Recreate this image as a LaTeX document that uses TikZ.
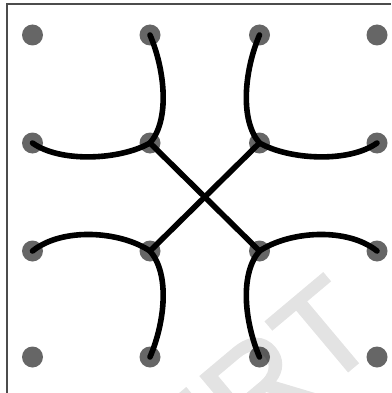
\documentclass[tikz,border=0pt]{standalone}
\usepackage{fontspec}
\newfontfamily\markfont[UprightFeatures={FakeBold=1.6}]{Liberation Sans}
\usetikzlibrary{positioning}

\begin{document}
\begin{tikzpicture}[
    x=1pt, y=-1pt,
    cord/.style={line width=5.6pt, black, line cap=round},
    dot/.style={fill=black, fill opacity=0.6},
    frame/.style={line width=1.2pt, black!70}
]
\useasboundingbox (0,0) rectangle (391,393);
\begin{scope}
\clip (0,0) rectangle (391,393);
\node[rotate=40, anchor=base east, text=black!11, font=\markfont\fontsize{132}{132}\selectfont, inner sep=0] (mark) at (384,341) {ERT};
\end{scope}
\draw[frame] (7,393) -- (7,4) -- (391,4);

% grid points
\coordinate (n11) at (32.5,35);  \coordinate (n12) at (150,35);
\coordinate (n13) at (259.5,35); \coordinate (n14) at (377,35);
\coordinate (n21) at (32.5,143); \coordinate (n22) at (150,143);
\coordinate (n23) at (259.5,143);\coordinate (n24) at (377,143);
\coordinate (n31) at (32.5,251); \coordinate (n32) at (150,251);
\coordinate (n33) at (259.5,251);\coordinate (n34) at (377,251);
\coordinate (n41) at (32.5,357); \coordinate (n42) at (150,357);
\coordinate (n43) at (259.5,357);\coordinate (n44) at (377,357);

% curves
\draw[cord] (n12) .. controls +(15,35) and +(20,-23) .. (n22);
\draw[cord] (n21) .. controls +(28,20) and +(-30,17) .. (n22);
\draw[cord] (n13) .. controls +(-15,35) and +(-20,-23) .. (n23);
\draw[cord] (n23) .. controls +(30,17) and +(-28,20) .. (n24);
\draw[cord] (n31) .. controls +(30,-24) and +(-30,-20) .. (n32);
\draw[cord] (n32) .. controls +(20,23) and +(15,-35) .. (n42);
\draw[cord] (n33) .. controls +(30,-20) and +(-30,-24) .. (n34);
\draw[cord] (n33) .. controls +(-20,23) and +(-15,-35) .. (n43);
% cross
\draw[cord] (n22) -- (n33);
\draw[cord] (n23) -- (n32);

\foreach \p in {n11,n12,n13,n14,n21,n22,n23,n24,n31,n32,n33,n34,n41,n42,n43,n44}
  \fill[dot] (\p) circle (10.5);
\end{tikzpicture}
\end{document}
